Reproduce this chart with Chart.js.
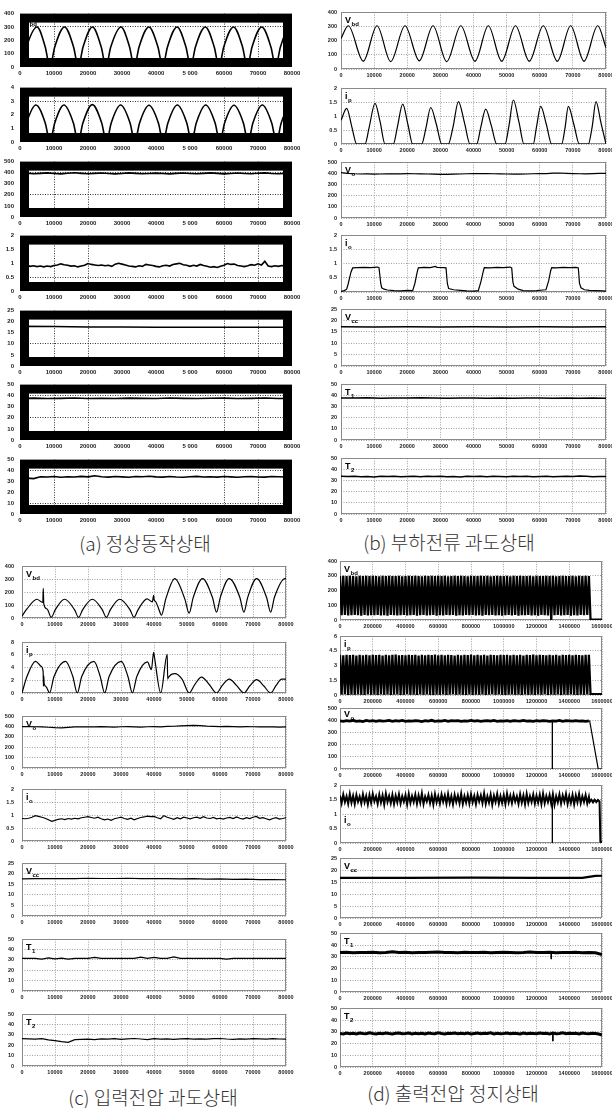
<!DOCTYPE html>
<html>
<head>
<meta charset="utf-8">
<script src="https://cdn.jsdelivr.net/npm/chart.js@4"></script>
<style>
  body { margin:0; background:#fff; width:612px; height:1108px; overflow:hidden; position:relative; }
  canvas { position:absolute; }
  .cap { position:absolute; width:240px; text-align:center; font-family:"Noto Sans CJK KR", sans-serif; font-weight:300; font-size:19px; line-height:24px; color:#333; white-space:nowrap; }
</style>
</head>
<body>
<div class="cap" style="left:25px;top:531px">(a) 정상동작상태</div>
<div class="cap" style="left:329px;top:530px">(b) 부하전류 과도상태</div>
<div class="cap" style="left:33px;top:1085px">(c) 입력전압 과도상태</div>
<div class="cap" style="left:333px;top:1081px">(d) 출력전압 정지상태</div>
<script>
// ---- tick labels ----
var aXLabels = ['0','10000','20000','30000','40000','5 000','60000','70000','80000'];
var xLabels80k = ['0','10000','20000','30000','40000','50000','60000','70000','80000'];
var dXLabels = ['0','200000','400000','600000','800000','1000000','1200000','1400000','1600000'];
var aGridX = [10000,20000,60000,70000];

// ---- (a) normal operation ----
var aVbdX = [0,500,1900,5000,7420,8820,10220,13100,15750,17150,18550,21300,23890,25290,26690,29700,32220,33620,35020,37900,40570,41970,43370,46200,48800,50200,51600,54500,57130,58530,59930,62800,65450,66850,68250,71100,73800,75200,76600,79400,80000];
var aVbdY = [45,0,150,300,150,0,150,300,150,0,150,300,150,0,150,300,150,0,150,300,150,0,150,300,150,0,150,300,150,0,150,300,150,0,150,300,150,0,150,300,297];
var aIpX = [0,500,1900,4700,7420,8820,10220,12940,15700,17100,18500,21270,24030,25430,26830,29600,32370,33770,35170,37940,40700,42100,43500,46270,49050,50450,51850,54620,57380,58780,60180,62940,65700,67100,68500,71270,74030,75430,76830,79600,80000];
var aIpY = [0.4,0,1.4,2.72,1.4,0,1.4,2.72,1.4,0,1.4,2.75,1.4,0,1.4,2.72,1.4,0,1.4,2.7,1.4,0,1.4,2.72,1.4,0,1.4,2.72,1.4,0,1.4,2.7,1.4,0,1.4,2.72,1.4,0,1.4,2.72,2.7];
var aVo = [392,396,390,394,398,393,389,395,399,394,390,394,397,393,389,393,398,394,390,393,396,392,389,394,397,393,390,394,398,394,389,393,397,393,390,395,398,393,390,394,392];
var aIo = [0.92,0.90,0.93,0.89,0.91,0.88,0.90,0.87,0.90,0.88,0.92,
  0.94,0.98,0.95,0.93,0.90,0.91,0.87,0.90,0.93,0.99,
  0.96,0.94,0.92,0.94,0.91,0.93,0.89,0.97,1.00,0.97,
  0.94,0.90,0.89,0.87,0.91,0.89,0.96,0.94,0.92,0.89,
  0.87,0.91,0.93,0.90,0.96,0.98,1.00,0.95,0.93,0.89,
  0.93,0.90,0.96,0.92,0.89,0.86,0.88,0.85,0.89,0.93,
  0.99,0.96,0.97,0.92,0.90,0.88,0.91,0.95,0.93,0.98,
  0.94,1.07,0.90,0.88,0.91,0.89,0.92,0.90,0.91,0.92];
var aVcc = [17.9,17.8,17.6,17.6,17.5,17.5,17.5,17.5,17.5];
var aT1 = [37.5,37.8,37.4,37.6,37.9,37.5,37.7,37.4,37.8,37.6,37.5,37.9,37.6,37.4,37.7,37.8,37.5,37.6,37.9,37.5,37.6];
var aT2 = [33.5,33,32.5,34.2,34,34.5,33.8,34.3,34,34.6,34.1,35.2,34.3,33.9,34.4,34.1,33.8,34.5,34.2,34.7,34.1,33.9,34.4,34.0,33.8,34.3,34.6,34.0,34.2,33.9,34.4,34.1,33.8,34.3,34.5,34.0,33.9,34.4,34.2,34.0,34.3];

// ---- (b) load current transient ----
var bVbdX = [0,2200,6730,10870,15000,19320,23640,27780,31910,36180,40450,44480,48510,52680,56840,61070,65300,69330,73360,77500,80000];
var bVbdY = [215,305,55,305,52,305,58,305,52,305,55,305,55,305,55,305,55,305,55,305,150];
var bIpX = [0,1720,3300,4740,7250,8500,10270,11800,13280,15800,17000,18630,20200,21650,24350,25600,27090,28800,30400,32400,33800,35450,37300,38940,40960,42200,43680,45400,47000,49500,50700,52030,53700,55240,58050,59000,60290,62000,63600,66620,67600,68620,70300,71940,74660,75800,76980,78500,80000];
var bIpY = [0.85,1.28,0.6,0,0,0.6,1.46,0.8,0,0,0.6,1.43,0.7,0,0,0.55,1.31,0.7,0,0,0.6,1.52,0.75,0,0,0.6,1.25,0.65,0,0,0.65,1.58,0.8,0,0,0.6,1.35,0.7,0,0,0.55,1.35,0.7,0,0,0.6,1.52,0.75,0];
var bVo = [408,401,397,395,396,394,395,396,397,396,398,397,396,395,394,392,391,393,395,397,398,399,398,397,396,395,393,394,395,397,398,399,402,404,401,399,397,396,398,400,401];
var bIoX = [0,1000,1720,2200,3000,3530,5000,7000,9000,11000,11470,12000,12280,13000,14000,16000,18000,20000,21640,22300,23000,23350,25000,27000,28500,29000,31000,31700,32100,32500,34000,36000,38000,40000,41450,42200,43000,43260,45000,47000,49000,51000,51530,51900,52230,53500,55000,57000,59000,61000,61890,62700,63300,63600,65000,67000,69000,71000,71640,72000,72450,73500,75000,77000,79000,80000];
var bIoY = [0.02,0.05,0.1,0.3,0.7,0.85,0.86,0.87,0.86,0.88,0.86,0.3,0.15,0.1,0.07,0.05,0.04,0.06,0.05,0.3,0.7,0.85,0.87,0.86,0.9,0.87,0.86,0.85,0.3,0.12,0.08,0.06,0.04,0.03,0.05,0.35,0.75,0.86,0.85,0.87,0.86,0.88,0.85,0.35,0.2,0.1,0.05,0.04,0.05,0.07,0.08,0.4,0.75,0.86,0.85,0.87,0.86,0.87,0.85,0.3,0.15,0.08,0.06,0.05,0.04,0.03];
var bVcc = [17.3,17.2,17.3,17.2,17.3,17.2,17.3,17.2,17.3];
var bT1 = [37.8,37.6,37.9,37.5,37.8,37.6,37.9,37.7,37.5,37.8,37.6,37.4,37.7,37.5,37.8,37.6,37.4,37.7,37.5,37.6,37.4];
var bT2 = [33.8,33.6,33.9,33.5,33.7,33.2,33.9,33.6,33.8,33.5,33.7,33.9,33.4,33.8,33.6,33.9,33.5,33.7,33.3,33.8,33.6,33.9,33.5,33.8,33.6,33.4,33.8,33.6,33.9,33.5,33.7,33.8,33.4,33.7,33.9,33.6,34.2,33.8,33.5,33.7,33.6];

// ---- (c) input voltage transient ----
var cVbdX = [0,1500,4500,6300,6440,6600,7600,8860,10100,12900,15900,17150,18400,21300,24300,25560,26800,29600,32700,33950,35200,37900,39500,39900,40050,40400,41300,42260,43600,46300,49300,50640,51900,54700,57700,58950,60100,62790,66000,67240,68400,71100,74100,75350,76500,79700,80000];
var cVbdY = [15,70,145,120,230,110,70,5,65,145,65,5,65,145,65,5,65,145,65,5,65,148,125,175,140,130,80,23,150,305,150,38,160,305,160,45,160,305,160,45,160,305,160,45,160,305,305];
var cIpX = [0,1500,4100,5800,6400,6500,6600,6700,7300,8350,9700,13200,15400,16750,18100,21800,23700,25050,26400,30100,32100,33450,34800,38000,39200,39900,40100,42050,44000,44150,44300,46300,48500,50650,52300,54400,56800,58950,60700,62800,65000,67250,69000,71100,73300,75350,77000,78700,80000];
var cIpY = [0,2.6,5.0,4.2,3.4,1.1,2.7,1.5,1.0,0,2.6,5.0,2.6,0,2.6,5.0,2.6,0,2.6,5.0,2.6,0,2.6,4.9,3.7,6.4,5.8,0,6.1,2.2,2.4,3.05,2.2,0,1.3,2.5,1.3,0,1.2,2.2,1.2,0,1.1,2.1,1.1,0,1.2,2.2,2.2];
var cVo = [400,401,399,398,394,390,388,392,397,398,399,397,400,398,396,399,401,398,396,399,400,398,402,404,407,410,412,409,405,403,401,402,400,398,401,399,397,399,398,396,398];
var cIo = [0.87,0.86,0.88,0.92,0.98,0.95,0.92,0.88,0.82,0.76,0.80,
  0.84,0.86,0.83,0.87,0.85,0.88,0.86,0.90,0.92,0.94,
  0.91,0.88,0.92,0.86,0.82,0.85,0.80,0.86,0.89,0.92,
  0.87,0.84,0.88,0.82,0.87,0.91,0.93,0.96,0.94,0.95,
  0.90,0.86,0.98,0.92,0.88,0.84,0.90,0.86,0.92,0.89,
  0.86,0.90,0.92,0.88,0.94,0.89,0.87,0.91,0.86,0.88,
  0.85,0.89,0.91,0.87,0.93,0.88,0.85,0.90,0.87,0.92,
  0.95,0.88,0.90,0.86,0.82,0.87,0.90,0.85,0.87,0.90];
var cVcc = [17.6,17.7,17.7,17.8,17.7,17.9,17.8,17.8,17.9,17.7,17.8,17.7,17.6,17.7,17.5,17.6,17.4,17.5,17.3,17.3,17.2];
var cT1 = [31.6,31.6,31.6,30.8,32.0,31.0,31.8,30.9,31.6,31.6,31.6,32.6,31.6,31.6,31.6,31.6,31.6,31.6,32.8,31.6,32.6,31.6,31.6,32.9,31.6,31.6,31.6,31.6,31.6,31.6,31.6,30.9,31.6,31.6,31.6,31.6,31.6,31.6,31.6,31.6,31.6];
var cT2 = [26.5,26.3,26.0,26.4,25.2,24.5,23.5,22.8,25.5,25.8,26.0,25.6,26.2,26.0,26.4,25.8,26.3,26.6,26.1,25.6,26.4,26.0,26.3,25.8,26.2,26.5,26.0,26.3,25.9,26.4,26.6,26.1,25.8,26.3,26.0,26.5,26.2,25.9,26.4,26.1,26.0];

// ---- (d) output voltage stop (sampled every 10000 / 20000 / 40000) ----
var dVbd = [300,32,301,34,299,31,302,33,300,35,298,32,301,30,300,34,302,31,299,33,
  301,32,300,35,298,31,302,33,300,30,301,34,299,32,300,31,302,33,298,35,
  300,31,301,33,299,34,302,30,300,32,298,35,301,31,300,33,302,34,299,30,
  301,33,300,31,302,35,298,32,300,34,301,30,299,33,302,31,300,35,298,32,
  301,34,300,31,299,33,302,30,300,35,301,32,298,34,300,31,302,33,299,30,
  300,32,301,35,298,31,302,34,300,30,301,33,299,32,300,35,302,31,298,33,
  301,30,300,34,299,32,302,31,300,0,301,33,298,35,300,31,302,32,299,34,
  300,30,301,33,298,31,302,35,300,32,301,34,
  300,2,2,2,2,2,2,2,2];
var dIp = [4.1,0.05,4.05,0.1,4.12,0,4.08,0.06,4.1,0.02,4.03,0.08,4.11,0.04,4.07,0,4.1,0.1,4.05,0.03,
  4.12,0.06,4.08,0,4.1,0.09,4.04,0.02,4.11,0.07,4.06,0.01,4.1,0.05,4.13,0.08,4.07,0,4.09,0.04,
  4.05,0.1,4.11,0.03,4.08,0.06,4.12,0,4.04,0.07,4.1,0.02,4.06,0.09,4.11,0.04,4.08,0.01,4.13,0.06,
  4.07,0.03,4.1,0.08,4.05,0,4.12,0.05,4.09,0.1,4.04,0.02,4.11,0.07,4.06,0.04,4.1,0,4.08,0.09,
  4.13,0.01,4.05,0.06,4.1,0.03,4.07,0.08,4.11,0,4.04,0.05,4.12,0.1,4.08,0.02,4.06,0.07,4.1,0.04,
  4.09,0,4.11,0.06,4.05,0.09,4.12,0.03,4.07,0.05,4.1,0.01,4.04,0.08,4.11,0.02,4.08,0.06,4.13,0,
  4.06,0.07,4.1,0.04,4.08,0.1,4.05,0.01,4.11,0.06,4.07,0.03,4.12,0.09,4.04,0,4.1,0.05,4.08,0.02,
  4.11,0.07,4.06,0.04,4.1,0,4.08,0.06,4.05,0.03,4.12,0.08,
  4.1,0.08,0.08,0.08,0.08,0.08,0.08,0.08,0.08];
var dVo = [396,392,399,394,401,393,397,391,400,395,398,392,399,394,396,401,393,398,395,400,
  392,397,394,399,396,391,398,395,401,393,397,394,400,392,398,396,399,393,397,395,
  401,394,398,392,396,399,394,400,393,397,395,398,392,399,396,394,400,395,397,393,
  398,394,399,396,392,397,395,400,393,398,396,394,399,395,397,393,396];
var dVoSpikeX = [1297000,1297000];
var dVoSpikeY = [395,0];
var dVoTailX = [1520000,1525000,1577000,1600000];
var dVoTailY = [396,394,0,0];
var dIo = [1.65,1.38,1.68,1.42,1.62,1.36,1.7,1.4,1.64,1.35,1.67,1.43,1.61,1.37,1.69,1.41,1.63,1.34,1.66,1.39,
  1.7,1.44,1.62,1.36,1.68,1.4,1.65,1.33,1.71,1.42,1.63,1.38,1.67,1.35,1.64,1.41,1.69,1.37,1.62,1.43,
  1.66,1.34,1.7,1.39,1.63,1.42,1.68,1.36,1.65,1.4,1.72,1.35,1.61,1.44,1.67,1.38,1.64,1.33,1.69,1.41,
  1.62,1.37,1.68,1.43,1.65,1.36,1.7,1.39,1.63,1.34,1.67,1.42,1.64,1.38,1.71,1.35,1.62,1.4,1.66,1.37,
  1.69,1.41,1.63,1.35,1.67,1.44,1.65,1.38,1.72,1.36,1.62,1.4,1.68,1.33,1.64,1.42,1.7,1.37,1.63,1.39,
  1.66,1.35,1.71,1.41,1.64,1.38,1.67,1.43,1.62,1.36,1.69,1.4,1.65,1.34,1.7,1.39,1.63,1.42,1.68,1.37,
  1.64,1.4,1.67,1.35,1.71,1.38,1.63,1.42,1.66,1.36,1.69,1.33,1.62,1.41,1.68,1.37,1.65,1.43,1.7,1.36,
  1.63,1.39,1.67,1.34,1.65,1.41,1.7,1.38,1.62,1.42,1.66,1.37];
var dIoTail = [[1520000,1.6],[1525000,1.42],[1535000,1.5],[1545000,1.41],[1555000,1.5],[1565000,1.42],[1575000,1.49],[1585000,1.44],[1590000,0.05],[1600000,0.02]];
var dIoSpikeX = [1297000,1297000];
var dIoSpikeY = [1.4,0];
var dVccX = [0,400000,800000,1200000,1480000,1520000,1560000,1600000];
var dVccY = [16.8,16.8,16.9,16.8,16.8,17.2,17.6,17.7];
var dT1 = [33.6,33.8,33.5,33.7,33.6,33.9,33.5,33.7,34.2,33.6,33.8,33.5,33.7,33.6,33.9,34.1,33.6,33.7,33.5,33.8,
  33.6,33.7,33.9,33.5,33.6,33.8,33.7,33.5,33.6,34.0,33.7,33.6,33.8,33.5,33.7,33.6,33.8,33.5,33.6,33.4,32.0];
var dT1SpikeX = [1290000,1290000];
var dT1SpikeY = [33.6,28];
var dT2 = [28.6,28.2,29.0,28.4,28.8,28.1,28.9,28.5,28.3,29.1,28.6,28.2,28.8,28.4,29.0,28.5,28.1,28.7,28.9,28.3,
  28.6,29.0,28.2,28.8,28.4,28.7,28.1,28.9,28.5,28.3,29.1,28.6,28.2,28.8,28.5,28.9,28.3,28.7,28.4,29.0,
  28.2,28.6,28.9,28.3,28.7,28.5,29.1,28.2,28.8,28.4,28.6,29.0,28.3,28.7,28.5,28.1,28.9,28.4,28.8,28.6,
  28.3,29.0,28.5,28.7,28.2,28.9,28.4,28.6,29.1,28.3,28.8,28.5,28.7,28.2,28.9,28.6,28.4,28.8,28.5,28.1,
  27.2];
var dT2SpikeX = [1300000,1300000];
var dT2SpikeY = [28.6,22];

// ---- helpers ----
function makePoints(s) {
  var out = [];
  if (s.x) {
    for (var i = 0; i < s.x.length; i++) out.push({x: s.x[i], y: s.y[i]});
  } else {
    for (var j = 0; j < s.y.length; j++) out.push({x: j * s.dx, y: s.y[j]});
  }
  if (s.ev) {
    s.ev.forEach(function(p) { out.push({x: p[0], y: p[1]}); });
    out.sort(function(a, b) { return a.x - b.x; });
  }
  return out;
}

function near(list, v) {
  if (!list) return true;
  for (var i = 0; i < list.length; i++) if (Math.abs(list[i] - v) < 1e-6) return true;
  return false;
}

var decoPlugin = {
  id: 'deco',
  beforeDatasetsDraw: function(chart, args, o) {
    if (o.frame) return;
    var a = chart.chartArea, ctx = chart.ctx;
    ctx.save();
    ctx.strokeStyle = '#8a8a8a';
    ctx.lineWidth = 1;
    ctx.strokeRect(Math.round(a.left) + 0.5, Math.round(a.top) + 0.5, Math.round(a.right - a.left) - 1, Math.round(a.bottom - a.top) - 1);
    ctx.restore();
  },
  afterDatasetsDraw: function(chart, args, o) {
    var a = chart.chartArea, ctx = chart.ctx;
    ctx.save();
    if (o.main) {
      var x = a.left + o.dx, y = a.top + o.dy;
      ctx.fillStyle = '#000';
      ctx.font = 'bold 9px "Liberation Sans", Arial, sans-serif';
      ctx.fillText(o.main, x, y);
      var w = ctx.measureText(o.main).width;
      ctx.font = 'bold 6px "Liberation Sans", Arial, sans-serif';
      ctx.fillText(o.sub, x + w + 0.5, y + 2.5);
    }
    if (o.frame) {
      ctx.strokeStyle = '#000';
      ctx.lineWidth = 9;
      ctx.strokeRect(a.left + 4.5, a.top + 4.5, a.right - a.left - 9, a.bottom - a.top - 9);
    }
    ctx.restore();
  }
};

function addPlot(p) {
  var padTop = 5, padRight = 16, yW = 24, xH = 12;
  var w = Math.round(yW + (p.r - p.l) + padRight);
  var h = Math.round(padTop + (p.b - p.t) + xH);
  var c = document.createElement('canvas');
  c.width = w; c.height = h;
  c.style.left = (p.l - yW) + 'px';
  c.style.top = (p.t - padTop) + 'px';
  c.style.width = w + 'px';
  c.style.height = h + 'px';
  document.body.appendChild(c);

  var gridCol = p.frame ? '#333' : '#a0a0a0';
  var tickFont = {family: '"Liberation Sans", Arial, sans-serif', size: p.fs, weight: 'bold'};

  new Chart(c.getContext('2d'), {
    type: 'line',
    data: {
      datasets: p.series.map(function(s) {
        return {
          data: makePoints(s),
          borderColor: '#000',
          borderWidth: s.w || p.w,
          pointRadius: 0,
          fill: false,
          tension: 0,
          cubicInterpolationMode: s.smooth ? 'monotone' : 'default'
        };
      })
    },
    plugins: [decoPlugin],
    options: {
      responsive: false,
      animation: false,
      devicePixelRatio: 1,
      events: [],
      layout: {padding: {top: padTop, right: padRight, left: 0, bottom: 0}},
      plugins: {
        legend: {display: false},
        tooltip: {enabled: false},
        deco: {frame: !!p.frame, main: p.lab ? p.lab[0] : '', sub: p.lab ? p.lab[1] : '', dx: p.ldx || 4, dy: p.ldy || 11}
      },
      scales: {
        x: {
          type: 'linear', min: 0, max: p.xMax,
          afterFit: function(s) { s.height = xH; },
          ticks: {
            stepSize: p.xMax / 8, autoSkip: false, maxRotation: 0, padding: 3,
            font: tickFont, color: '#222',
            callback: function(v) { return p.xLabels[Math.round(v / (p.xMax / 8))]; }
          },
          grid: {
            drawTicks: false, lineWidth: 1,
            color: function(ctx) { return near(p.gx, ctx.tick.value) ? gridCol : 'rgba(0,0,0,0)'; }
          },
          border: {display: false, dash: [1, 1.5]}
        },
        y: {
          min: 0, max: p.yMax,
          afterFit: function(s) { s.width = yW; },
          ticks: {
            stepSize: p.yStep, padding: p.yPad, font: tickFont, color: '#222',
            callback: function(v) { return String(+v.toFixed(2)); }
          },
          grid: {
            drawTicks: false, lineWidth: 1,
            color: function(ctx) { return near(p.gy, ctx.tick.value) ? gridCol : 'rgba(0,0,0,0)'; }
          },
          border: {display: false, dash: [1, 1.5]}
        }
      }
    }
  });
}

Chart.defaults.font.family = '"Liberation Sans", Arial, sans-serif';

var A = {l: 20, r: 292, xMax: 80000, xLabels: aXLabels, frame: true, fs: 6, yPad: 6, w: 1.6, gx: aGridX};
var B = {l: 341, r: 606, xMax: 80000, xLabels: xLabels80k, fs: 5.5, yPad: 4, w: 1.2};
var C = {l: 22, r: 286, xMax: 80000, xLabels: xLabels80k, fs: 5.5, yPad: 8, w: 1.2};
var D = {l: 340, r: 602, xMax: 1600000, xLabels: dXLabels, fs: 5.5, yPad: 3, w: 1.2};

function panel(base, extra) {
  var o = {};
  for (var k in base) o[k] = base[k];
  for (var k2 in extra) o[k2] = extra[k2];
  return o;
}

var plots = [
  panel(A, {t: 9, b: 67, yMax: 400, yStep: 100, gy: [300], lab: ['V', 'bd'], ldx: 3, ldy: 9.5, series: [{x: aVbdX, y: aVbdY, smooth: true}]}),
  panel(A, {t: 83, b: 142, yMax: 4, yStep: 1, gy: [3], series: [{x: aIpX, y: aIpY, smooth: true}]}),
  panel(A, {t: 157, b: 217, yMax: 500, yStep: 100, gy: [200, 400], series: [{dx: 2000, y: aVo}]}),
  panel(A, {t: 231, b: 291, yMax: 2, yStep: 0.5, gy: [0.5], series: [{dx: 1000, y: aIo}]}),
  panel(A, {t: 306, b: 366, yMax: 25, yStep: 5, gy: [10], series: [{dx: 10000, y: aVcc}]}),
  panel(A, {t: 380, b: 440, yMax: 50, yStep: 10, gy: [20, 40], series: [{dx: 4000, y: aT1}]}),
  panel(A, {t: 455, b: 514, yMax: 50, yStep: 10, gy: [10, 40], series: [{dx: 2000, y: aT2}]}),

  panel(B, {t: 10, b: 69, yMax: 400, yStep: 100, lab: ['V', 'bd'], series: [{x: bVbdX, y: bVbdY, smooth: true}]}),
  panel(B, {t: 86, b: 144, yMax: 2, yStep: 0.5, lab: ['i', 'p'], series: [{x: bIpX, y: bIpY, smooth: true}]}),
  panel(B, {t: 160, b: 218, yMax: 500, yStep: 100, lab: ['V', 'o'], series: [{dx: 2000, y: bVo}]}),
  panel(B, {t: 233, b: 292, yMax: 2, yStep: 0.5, lab: ['i', 'o'], series: [{x: bIoX, y: bIoY}]}),
  panel(B, {t: 307, b: 366, yMax: 25, yStep: 5, lab: ['V', 'cc'], series: [{dx: 10000, y: bVcc, w: 1.5}]}),
  panel(B, {t: 382, b: 440, yMax: 50, yStep: 10, lab: ['T', '1'], series: [{dx: 4000, y: bT1, w: 1.5}]}),
  panel(B, {t: 456, b: 514, yMax: 50, yStep: 10, lab: ['T', '2'], series: [{dx: 2000, y: bT2, w: 1.5}]}),

  panel(C, {t: 560, b: 618, yMax: 400, yStep: 100, lab: ['V', 'bd'], series: [{x: cVbdX, y: cVbdY, smooth: true}]}),
  panel(C, {t: 636, b: 693, yMax: 8, yStep: 2, lab: ['i', 'p'], series: [{x: cIpX, y: cIpY, smooth: true}]}),
  panel(C, {t: 710, b: 768, yMax: 500, yStep: 100, lab: ['V', 'o'], series: [{dx: 2000, y: cVo}]}),
  panel(C, {t: 783, b: 841, yMax: 2, yStep: 0.5, lab: ['i', 'o'], series: [{dx: 1000, y: cIo}]}),
  panel(C, {t: 857, b: 916, yMax: 25, yStep: 5, lab: ['V', 'cc'], series: [{dx: 4000, y: cVcc}]}),
  panel(C, {t: 933, b: 991, yMax: 50, yStep: 10, lab: ['T', '1'], series: [{dx: 2000, y: cT1}]}),
  panel(C, {t: 1008, b: 1066, yMax: 50, yStep: 10, lab: ['T', '2'], series: [{dx: 2000, y: cT2}]}),

  panel(D, {t: 560, b: 620, yMax: 400, yStep: 100, lab: ['V', 'bd'], series: [{dx: 10000, y: dVbd, w: 2.3}]}),
  panel(D, {t: 635, b: 695, yMax: 6, yStep: 1.5, lab: ['i', 'p'], series: [{dx: 10000, y: dIp, w: 2.3}]}),
  panel(D, {t: 707, b: 769, yMax: 500, yStep: 100, lab: ['V', 'o'], ldy: 9, series: [{dx: 20000, y: dVo, w: 2.8}, {x: dVoSpikeX, y: dVoSpikeY, w: 1}, {x: dVoTailX, y: dVoTailY, w: 1.2}]}),
  panel(D, {t: 784, b: 843, yMax: 2, yStep: 0.5, lab: ['i', 'o'], ldy: 38, series: [{dx: 10000, y: dIo, ev: dIoTail, w: 2}, {x: dIoSpikeX, y: dIoSpikeY, w: 1}]}),
  panel(D, {t: 857, b: 918, yMax: 25, yStep: 5, lab: ['V', 'cc'], series: [{x: dVccX, y: dVccY, w: 2.2}]}),
  panel(D, {t: 932, b: 992, yMax: 50, yStep: 10, lab: ['T', '1'], series: [{dx: 40000, y: dT1, w: 3}, {x: dT1SpikeX, y: dT1SpikeY, w: 1}]}),
  panel(D, {t: 1007, b: 1067, yMax: 50, yStep: 10, lab: ['T', '2'], series: [{dx: 20000, y: dT2, w: 3}, {x: dT2SpikeX, y: dT2SpikeY, w: 1}]})
];

plots.forEach(addPlot);
</script>
</body>
</html>
